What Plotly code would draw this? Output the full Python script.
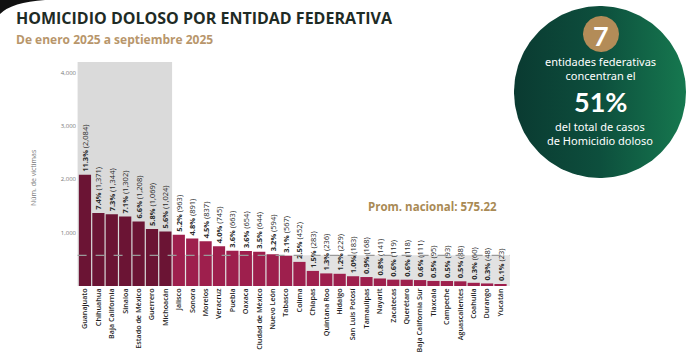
import numpy as np
import plotly.graph_objects as go

W, H = 698, 353

estados = ["Guanajuato", "Chihuahua", "Baja California", "Sinaloa", "Estado de México",
           "Guerrero", "Michoacán", "Jalisco", "Sonora", "Morelos", "Veracruz", "Puebla",
           "Oaxaca", "Ciudad de México", "Nuevo León", "Tabasco", "Colima", "Chiapas",
           "Quintana Roo", "Hidalgo", "San Luis Potosí", "Tamaulipas", "Nayarit",
           "Zacatecas", "Querétaro", "Baja California Sur", "Tlaxcala", "Campeche",
           "Aguascalientes", "Coahuila", "Durango", "Yucatán"]
victimas = [2084, 1371, 1344, 1302, 1208, 1069, 1024, 963, 891, 837, 745, 663,
            654, 644, 594, 567, 452, 283, 236, 229, 183, 168, 141,
            119, 118, 111, 95, 93, 88, 60, 48, 23]
porcentaje = [11.3, 7.4, 7.3, 7.1, 6.6, 5.8, 5.6, 5.2, 4.8, 4.5, 4.0, 3.6,
              3.6, 3.5, 3.2, 3.1, 2.5, 1.5, 1.3, 1.2, 1.0, 0.9, 0.8,
              0.6, 0.6, 0.6, 0.5, 0.5, 0.5, 0.3, 0.3, 0.1]
promedio = 575.22
top_n = 7
y_ticks = [1000, 2000, 3000, 4000]

dark = "#6b1434"
light = "#9e1f4d"
colors = [dark if i < top_n else light for i in range(len(estados))]
labels = [f"<b>{p:.1f}%</b> ({v:,})" for p, v in zip(porcentaje, victimas)]

# pixel layout of main plot
x0p, x1p = 77, 510.5
ytop, ybot = 62, 286

fig = go.Figure()
fig.add_trace(go.Bar(
    x=estados, y=victimas, marker=dict(color=colors, line=dict(width=0)),
    text=labels, textposition="outside", textangle=-90, constraintext="none",
    textfont=dict(family="Open Sans", size=7.5, color="#2a2a2a"),
    cliponaxis=False, xaxis="x", yaxis="y", showlegend=False, hoverinfo="skip"))

# green circle with gradient (decorative) on a pixel-space overlay axis
cx, cy, r = 600, 92, 86
t = np.linspace(0, 2 * np.pi, 200)
fig.add_trace(go.Scatter(
    x=cx + r * np.cos(t), y=cy + r * np.sin(t), mode="lines", fill="toself",
    line=dict(width=0, color="rgba(0,0,0,0)"),
    fillgradient=dict(type="horizontal",
                      colorscale=[[0, "#0a3a31"], [0.5, "#0d4f3d"], [1, "#16784f"]]),
    xaxis="x2", yaxis="y2", showlegend=False, hoverinfo="skip"))
gx, gy, gr = 601, 34, 18
fig.add_trace(go.Scatter(
    x=gx + gr * np.cos(t), y=gy + gr * np.sin(t), mode="lines", fill="toself",
    line=dict(width=0, color="rgba(0,0,0,0)"), fillcolor="#b38c58",
    xaxis="x2", yaxis="y2", showlegend=False, hoverinfo="skip"))

shapes = [
    dict(type="rect", xref="x", yref="y", x0=-0.55, x1=top_n - 0.5, y0=0, y1=4200,
         fillcolor="#dadada", line=dict(width=0), layer="below"),
    dict(type="rect", xref="x", yref="y", x0=top_n - 0.5, x1=len(estados) - 0.3,
         y0=0, y1=promedio, fillcolor="#e2e2e2", line=dict(width=0), layer="below"),
    dict(type="line", xref="x", yref="y", x0=-0.55, x1=len(estados) - 0.3,
         y0=promedio, y1=promedio, line=dict(color="#9a9a9a", width=1.2, dash="dash"),
         layer="above"),
    dict(type="path", xref="x2", yref="y2",
         path="M 0 0 L 45 0 Q 12 2 0 14 Z", fillcolor="#111111", line=dict(width=0)),
]

circ_font = dict(family="Noto Sans", size=11, color="white")
annotations = [
    dict(text="<b>HOMICIDIO DOLOSO POR ENTIDAD FEDERATIVA</b>", xref="x2", yref="y2",
         x=14, y=18, xanchor="left", yanchor="middle", showarrow=False,
         font=dict(family="Open Sans", size=16, color="#1e2b25")),
    dict(text="<b>De enero 2025 a septiembre 2025</b>", xref="x2", yref="y2",
         x=14, y=39, xanchor="left", yanchor="middle", showarrow=False,
         font=dict(family="Open Sans", size=12, color="#b8966b")),
    dict(text=f"<b>Prom. nacional: {promedio:.2f}</b>", xref="x2", yref="y2",
         x=432, y=206, xanchor="center", yanchor="middle", showarrow=False,
         font=dict(family="Open Sans", size=11.5, color="#a98a55")),
    dict(text="Núm. de víctimas", xref="x2", yref="y2", x=33, y=178,
         textangle=-90, showarrow=False,
         font=dict(family="Open Sans", size=7, color="#777777")),
    dict(text=f"<b>{top_n}</b>", xref="x2", yref="y2", x=gx, y=gy + 1,
         showarrow=False, font=dict(family="Lato", size=27, color="white")),
    dict(text="entidades federativas<br>concentran el", xref="x2", yref="y2",
         x=cx, y=68.5, showarrow=False, font=circ_font, borderpad=0),
    dict(text="<b>51%</b>", xref="x2", yref="y2", x=cx, y=101, borderpad=0,
         showarrow=False, font=dict(family="Lato", size=27, color="white")),
    dict(text="del total de casos<br>de Homicidio doloso", xref="x2", yref="y2",
         x=cx, y=133.5, showarrow=False, font=circ_font, borderpad=0),
]

fig.update_layout(
    width=W, height=H, margin=dict(l=0, r=0, t=0, b=0),
    paper_bgcolor="white", plot_bgcolor="rgba(0,0,0,0)",
    bargap=0.09, shapes=shapes, annotations=annotations,
    xaxis=dict(domain=[x0p / W, x1p / W], anchor="y", tickangle=-90,
               tickfont=dict(family="Open Sans", size=7.2, color="#1f1f1f", weight=600),
               showgrid=False, zeroline=False, showline=False, ticks="",
               fixedrange=True),
    yaxis=dict(domain=[(H - ybot) / H, (H - ytop) / H], anchor="x", range=[0, 4200],
               tickvals=y_ticks, ticktext=[f"{v:,}" for v in y_ticks],
               tickfont=dict(family="Open Sans", size=6, color="#777777"),
               showgrid=False, zeroline=False, showline=False, ticks="",
               fixedrange=True),
    xaxis2=dict(domain=[0, 1], range=[0, W], anchor="y2", visible=False, fixedrange=True),
    yaxis2=dict(domain=[0, 1], range=[H, 0], anchor="x2", visible=False, fixedrange=True),
)

fig.write_html("out.html")
